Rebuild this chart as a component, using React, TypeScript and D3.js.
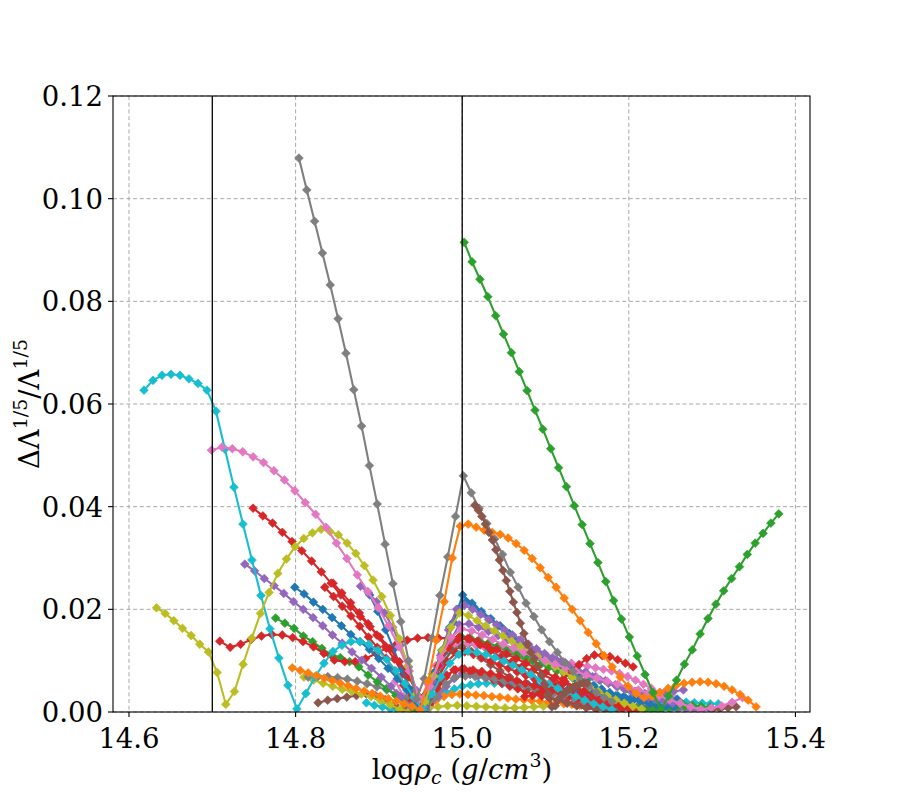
import React, { useEffect, useRef } from 'react';
import * as d3 from 'd3';

const xTicks = [14.6, 14.8, 15.0, 15.2, 15.4];
const yTicks = [0, 0.02, 0.04, 0.06, 0.08, 0.1, 0.12];
const guideLines = [14.7, 15.0];

// each series: start of the density grid, grid step, values
const cyanC3 = [0.0018,0.0013,0.0010,0.0006,0.0003,0.0002,0.0005,0.0010,0.0018,0.0028,0.0038,0.0045,0.0050,0.0053,0.0055,0.0056,0.0056,0.0055,0.0054,0.0052,0.0050,0.0048,0.0046,0.0044,0.0042,0.0040,0.0038,0.0036,0.0034,0.0032,0.0030,0.0028,0.0027,0.0026,0.0025,0.0024,0.0023,0.0022,0.0021,0.0020,0.0019,0.0018,0.0017,0.0016,0.0016];
const orangeO2 = [0.0015,0.0008,0.0003,0.0012,0.0022,0.0030,0.0034,0.0035,0.0034,0.0033,0.0032,0.0030,0.0029,0.0027,0.0025,0.0024,0.0022,0.0021,0.0019,0.0018,0.0016,0.0015,0.0013,0.0012,0.0011,0.0010];
const purpleV4 = [0.0010,0.0030,0.0050,0.0065,0.0075,0.0073,0.0070,0.0067,0.0064,0.0061,0.0058,0.0055,0.0052,0.0049,0.0046,0.0043,0.0040,0.0037,0.0034,0.0031,0.0028,0.0025,0.0022,0.0019,0.0016,0.0014,0.0012,0.0010,0.0008,0.0007,0.0006,0.0005,0.0005,0.0005,0.0005,0.0005];
const redR7 = [0.0015,0.0045,0.0068,0.0082,0.0084,0.0080,0.0074,0.0068,0.0062,0.0056,0.0050,0.0045,0.0040,0.0035,0.0031,0.0027,0.0023,0.0020,0.0017,0.0014,0.0012,0.0010,0.0008,0.0007,0.0006,0.0005,0.0004,0.0004,0.0004];
const blueB3 = [0.0060,0.0058,0.0056,0.0054,0.0052,0.0050,0.0048,0.0046,0.0044,0.0042,0.0040,0.0038,0.0036,0.0034,0.0032,0.0030,0.0028,0.0027,0.0026,0.0025,0.0025,0.0024];
const greenG4 = [0.0020,0.0060,0.0100,0.0125,0.0135,0.0133,0.0130,0.0127,0.0123,0.0119,0.0115,0.0110,0.0105,0.0099,0.0093,0.0087,0.0080,0.0073,0.0066,0.0058,0.0050,0.0042,0.0034,0.0026,0.0019,0.0013,0.0008,0.0005,0.0004,0.0005,0.0007,0.0009,0.0011,0.0012];
const pinkP3 = [0.0060,0.0030,0.0010,0.0020,0.0055,0.0090,0.0115,0.0128,0.0132,0.0133,0.0131,0.0128,0.0125,0.0122,0.0119,0.0116,0.0113,0.0110,0.0107,0.0104,0.0101,0.0098,0.0095,0.0092,0.0089,0.0086,0.0083,0.0080,0.0075,0.0069,0.0062,0.0054,0.0046,0.0038,0.0031,0.0025];
const brownBr2 = [0.0018,0.0023,0.0026,0.0029,0.0032,0.0036,0.0032,0.0024,0.0014,0.0005,0.0003,0.0025,0.0060,0.0095,0.0120,0.0127,0.0118,0.0105,0.0092,0.0080,0.0068,0.0057,0.0047,0.0038,0.0030,0.0023,0.0017,0.0012,0.0008,0.0005,0.0003,0.0003];
const brownBr3 = [0.0004,0.0006,0.0008,0.0010];
const oliveY2 = [0.0068,0.0062,0.0056,0.0050,0.0044,0.0040,0.0035,0.0030,0.0022,0.0014,0.0005,0.0002,0.0004,0.0008,0.0010,0.0012,0.0013,0.0012,0.0011,0.0010,0.0009,0.0008,0.0008,0.0009,0.0010,0.0011];
const grayGr2 = [0.0068,0.0069,0.0069,0.0067,0.0064,0.0060,0.0055,0.0049,0.0043,0.0036,0.0027,0.0016,0.0005,0.0030,0.0055,0.0068,0.0070,0.0069,0.0067,0.0064,0.0060,0.0056,0.0051,0.0046,0.0041,0.0036,0.0031,0.0026,0.0021,0.0017,0.0013,0.0009,0.0006];
const greenG2 = [0.0183,0.0173,0.0163,0.0148,0.0137,0.0124,0.0112,0.0106,0.0098,0.0088,0.0072,0.0059,0.0046,0.0032,0.0018,0.0004,0.0030,0.0075,0.0115,0.0140,0.0148,0.0145,0.0140,0.0134,0.0128,0.0122,0.0116,0.0110,0.0104,0.0098,0.0092,0.0086,0.0080,0.0074,0.0068,0.0062,0.0056,0.0050,0.0045,0.0040,0.0035,0.0030,0.0025,0.0020,0.0016,0.0013,0.0011,0.0010];
const redR3 = [0.0251,0.0232,0.0213,0.0193,0.0172,0.0150,0.0128,0.0103,0.0074,0.0042,0.0010,0.0030,0.0055,0.0072,0.0082,0.0084,0.0082,0.0079,0.0075,0.0071,0.0066,0.0061,0.0056,0.0051,0.0046,0.0041,0.0036,0.0031,0.0026,0.0022,0.0018,0.0014,0.0011,0.0008];
const redR2 = [0.0243,0.0225,0.0206,0.0187,0.0167,0.0146,0.0126,0.0105,0.0080,0.0052,0.0022,0.0005,0.0035,0.0068,0.0098,0.0115,0.0117,0.0112,0.0106,0.0099,0.0092,0.0085,0.0078,0.0071,0.0064,0.0058,0.0051,0.0045,0.0039,0.0033,0.0027,0.0022,0.0017,0.0012,0.0008];
const redR4 = [0.0138,0.0126,0.0132,0.0141,0.0148,0.0151,0.0150,0.0145,0.0137,0.0127,0.0114,0.0101,0.0098,0.0098,0.0104,0.0114,0.0124,0.0133,0.0140,0.0144,0.0145,0.0144,0.0144,0.0146,0.0142,0.0131,0.0119,0.0107,0.0097,0.0088,0.0080,0.0072,0.0064,0.0056,0.0048,0.0040,0.0032,0.0025,0.0018,0.0012];
const blueB0 = [0.0228,0.0196,0.0160,0.0122,0.0083,0.0045,0.0010,0.0030,0.0075,0.0120,0.0165,0.0200,0.0215,0.0205,0.0192,0.0180,0.0168,0.0156,0.0145,0.0134,0.0123,0.0113,0.0103,0.0094,0.0085,0.0076,0.0068,0.0060,0.0052,0.0045,0.0038,0.0032,0.0027,0.0023,0.0019,0.0016,0.0013,0.0011,0.0010];
const blueB1 = [0.0243,0.0230,0.0214,0.0200,0.0184,0.0168,0.0151,0.0137,0.0122,0.0104,0.0085,0.0065,0.0043,0.0020,0.0010,0.0060,0.0115,0.0175,0.0228,0.0212,0.0196,0.0182,0.0168,0.0153,0.0139,0.0125,0.0112,0.0100,0.0088,0.0077,0.0066,0.0056,0.0047,0.0039,0.0032,0.0027,0.0024,0.0022,0.0022,0.0023,0.0024,0.0025];
const purpleV2 = [0.0245,0.0232,0.0215,0.0193,0.0165,0.0130,0.0088,0.0042,0.0010,0.0060,0.0110,0.0160,0.0200,0.0208,0.0200,0.0190,0.0180,0.0170,0.0160,0.0150,0.0141,0.0132,0.0123,0.0114,0.0106,0.0098,0.0090,0.0083,0.0076,0.0069,0.0062,0.0056,0.0050,0.0044,0.0038,0.0033,0.0028,0.0024,0.0020,0.0017];
const purpleV1 = [0.0288,0.0275,0.0260,0.0246,0.0231,0.0215,0.0200,0.0184,0.0168,0.0150,0.0134,0.0117,0.0101,0.0085,0.0068,0.0050,0.0030,0.0012,0.0005,0.0045,0.0090,0.0135,0.0170,0.0172,0.0165,0.0157,0.0149,0.0141,0.0133,0.0125,0.0117,0.0109,0.0101,0.0093,0.0085,0.0077,0.0069,0.0061,0.0053,0.0046,0.0040,0.0036,0.0035,0.0037,0.0040,0.0043];
const redR1 = [0.0397,0.0382,0.0368,0.0350,0.0332,0.0314,0.0294,0.0273,0.0251,0.0228,0.0205,0.0186,0.0166,0.0146,0.0124,0.0098,0.0068,0.0030,0.0040,0.0090,0.0125,0.0141,0.0143,0.0138,0.0130,0.0122,0.0113,0.0104,0.0095,0.0086,0.0077,0.0068,0.0059,0.0050,0.0041,0.0032,0.0024,0.0016,0.0009,0.0004];
const redR6 = [0.0030,0.0032,0.0036,0.0042,0.0052,0.0065,0.0079,0.0092,0.0104,0.0111,0.0110,0.0108,0.0102,0.0095,0.0088];
const cyanA = [0.0627,0.0646,0.0656,0.0658,0.0656,0.0649,0.0640,0.0627,0.0586,0.0512,0.0438,0.0366,0.0296,0.0227,0.0162,0.0105,0.0052,0.0006,0.0036,0.0068,0.0095,0.0118,0.0130,0.0137,0.0137,0.0132,0.0120,0.0102,0.0080,0.0055,0.0028,0.0004,0.0035,0.0068,0.0095,0.0112,0.0118,0.0116,0.0112,0.0106,0.0099,0.0091,0.0082,0.0073,0.0064,0.0055,0.0046,0.0038,0.0030,0.0023,0.0016,0.0010,0.0005];
const oliveY1 = [0.0203,0.0192,0.0178,0.0163,0.0149,0.0132,0.0117,0.0077,0.0015,0.0040,0.0093,0.0144,0.0192,0.0233,0.0270,0.0298,0.0322,0.0338,0.0349,0.0356,0.0352,0.0345,0.0329,0.0309,0.0285,0.0257,0.0225,0.0188,0.0143,0.0090,0.0035,0.0020,0.0070,0.0120,0.0165,0.0193,0.0188,0.0178,0.0168,0.0158,0.0148,0.0138,0.0128,0.0118,0.0108,0.0098,0.0088,0.0078,0.0068,0.0058,0.0049,0.0040,0.0032,0.0024,0.0017,0.0011,0.0006];
const pinkP1 = [0.0510,0.0516,0.0513,0.0507,0.0497,0.0486,0.0470,0.0452,0.0431,0.0408,0.0385,0.0360,0.0329,0.0299,0.0267,0.0235,0.0203,0.0168,0.0127,0.0080,0.0025,0.0050,0.0105,0.0145,0.0162,0.0158,0.0150,0.0141,0.0132,0.0124,0.0116,0.0108,0.0100,0.0093,0.0086,0.0079,0.0072,0.0066,0.0060,0.0054,0.0049,0.0043,0.0037,0.0031,0.0024,0.0017,0.0010,0.0005,0.0008,0.0012,0.0019,0.0028];
const grayG1 = [0.1079,0.1017,0.0956,0.0894,0.0832,0.0766,0.0699,0.0628,0.0557,0.0480,0.0405,0.0327,0.0250,0.0176,0.0100,0.0025,0.0065,0.0144,0.0227,0.0302,0.0381,0.0460,0.0427,0.0397,0.0367,0.0337,0.0307,0.0272,0.0243,0.0212,0.0186,0.0160,0.0137,0.0116,0.0096,0.0079,0.0063,0.0050,0.0038,0.0028,0.0020];
const orangeO1 = [0.0086,0.0081,0.0076,0.0071,0.0066,0.0061,0.0056,0.0051,0.0046,0.0041,0.0036,0.0031,0.0026,0.0021,0.0016,0.0011,0.0004,0.0060,0.0140,0.0215,0.0300,0.0362,0.0366,0.0360,0.0354,0.0350,0.0346,0.0339,0.0328,0.0315,0.0299,0.0281,0.0262,0.0243,0.0222,0.0200,0.0178,0.0155,0.0133,0.0110,0.0088,0.0068,0.0050,0.0036,0.0028,0.0030,0.0038,0.0046,0.0052,0.0056,0.0058,0.0059,0.0058,0.0055,0.0050,0.0043,0.0034,0.0023,0.0010];
const brownBr1 = [0.0403,0.0393,0.0381,0.0366,0.0350,0.0335,0.0316,0.0296,0.0276,0.0256,0.0235,0.0214,0.0194,0.0173,0.0153,0.0132,0.0116,0.0104,0.0089,0.0072,0.0053,0.0035,0.0010,0.0012,0.0025,0.0033,0.0039,0.0044,0.0048,0.0051,0.0054,0.0056,0.0056];
const greenBig = [0.0915,0.0877,0.0843,0.0809,0.0772,0.0736,0.0700,0.0663,0.0626,0.0588,0.0551,0.0513,0.0476,0.0439,0.0402,0.0365,0.0328,0.0291,0.0254,0.0217,0.0181,0.0146,0.0109,0.0073,0.0038,0.0004,0.0031,0.0062,0.0093,0.0121,0.0152,0.0182,0.0210,0.0236,0.0260,0.0283,0.0307,0.0329,0.0348,0.0368,0.0386];

const series = [
  { color: '#17becf', x0: 14.885, dx: 0.0096, values: cyanC3 },
  { color: '#ff7f0e', x0: 14.93, dx: 0.0096, values: orangeO2 },
  { color: '#9467bd', x0: 14.9616, dx: 0.0096, values: purpleV4 },
  { color: '#d62728', x0: 14.9612, dx: 0.0096, values: redR7 },
  { color: '#1f77b4', x0: 15.05, dx: 0.0096, values: blueB3 },
  { color: '#2ca02c', x0: 14.96, dx: 0.0096, values: greenG4 },
  { color: '#e377c2', x0: 14.92, dx: 0.0096, values: pinkP3 },
  { color: '#8c564b', x0: 14.827, dx: 0.0115, values: brownBr2 },
  { color: '#8c564b', x0: 15.3, dx: 0.0096, values: brownBr3 },
  { color: '#bcbd22', x0: 14.81, dx: 0.0115, values: oliveY2 },
  { color: '#7f7f7f', x0: 14.815, dx: 0.0118, values: grayGr2 },
  { color: '#2ca02c', x0: 14.776, dx: 0.0111, values: greenG2 },
  { color: '#d62728', x0: 14.845, dx: 0.0105, values: redR3 },
  { color: '#d62728', x0: 14.835, dx: 0.0105, values: redR2 },
  { color: '#d62728', x0: 14.709, dx: 0.0125, values: redR4 },
  { color: '#1f77b4', x0: 14.889, dx: 0.0096, values: blueB0 },
  { color: '#1f77b4', x0: 14.799, dx: 0.0112, values: blueB1 },
  { color: '#9467bd', x0: 14.878, dx: 0.0096, values: purpleV2 },
  { color: '#9467bd', x0: 14.739, dx: 0.0117, values: purpleV1 },
  { color: '#d62728', x0: 14.749, dx: 0.0117, values: redR1 },
  { color: '#d62728', x0: 15.075, dx: 0.0093, values: redR6 },
  { color: '#17becf', x0: 14.618, dx: 0.0108, values: cyanA },
  { color: '#bcbd22', x0: 14.633, dx: 0.0104, values: oliveY1 },
  { color: '#e377c2', x0: 14.699, dx: 0.0125, values: pinkP1 },
  { color: '#7f7f7f', x0: 14.804, dx: 0.0094, values: grayG1 },
  { color: '#ff7f0e', x0: 14.796, dx: 0.0096, values: orangeO1 },
  { color: '#8c564b', x0: 15.0152, dx: 0.0042, values: brownBr1 },
  { color: '#2ca02c', x0: 15.0024, dx: 0.00944, values: greenBig },
];

const FONT = '"DejaVu Serif", serif';

const App: React.FC = () => {
  const gRef = useRef<SVGGElement | null>(null);

  useEffect(() => {
    const root = d3.select(gRef.current);
    root.selectAll('*').remove();

    const left = 113, right = 810, top = 96, bottom = 712;
    const x = d3.scaleLinear().domain([14.5808, 15.4175]).range([left, right]);
    const y = d3.scaleLinear().domain([0, 0.12]).range([bottom, top]);

    root.append('defs').append('clipPath').attr('id', 'plotclip')
      .append('rect').attr('x', left).attr('y', top)
      .attr('width', right - left).attr('height', bottom - top);

    // grid
    const grid = root.append('g').attr('stroke', '#a8a8a8').attr('stroke-width', 1)
      .attr('stroke-dasharray', '4,2.7');
    xTicks.forEach((t) => {
      grid.append('line').attr('x1', x(t)).attr('x2', x(t)).attr('y1', top).attr('y2', bottom);
    });
    yTicks.forEach((t) => {
      grid.append('line').attr('x1', left).attr('x2', right).attr('y1', y(t)).attr('y2', y(t));
    });

    const plot = root.append('g').attr('clip-path', 'url(#plotclip)');
    const r = 4.4;
    const diamond = `M0,${-r}L${r},0L0,${r}L${-r},0Z`;

    series.forEach((s) => {
      const pts = s.values.map((v, i) => [s.x0 + i * s.dx, v] as [number, number]);
      const line = d3.line<[number, number]>().x((d) => x(d[0])).y((d) => y(d[1]));
      plot.append('path').attr('d', line(pts)).attr('fill', 'none')
        .attr('stroke', s.color).attr('stroke-width', 2.1);
      plot.selectAll(null).data(pts).enter().append('path')
        .attr('d', diamond)
        .attr('transform', (d) => `translate(${x(d[0])},${y(d[1])})`)
        .attr('fill', s.color).attr('stroke', s.color).attr('stroke-width', 0.6);
    });

    guideLines.forEach((g) => {
      plot.append('line').attr('x1', x(g)).attr('x2', x(g)).attr('y1', top).attr('y2', bottom)
        .attr('stroke', '#000').attr('stroke-width', 1.3);
    });

    // frame
    root.append('rect').attr('x', left).attr('y', top).attr('width', right - left)
      .attr('height', bottom - top).attr('fill', 'none').attr('stroke', '#000').attr('stroke-width', 1.1);

    // ticks and labels
    const axes = root.append('g').attr('font-family', FONT).attr('font-size', 27.5).attr('fill', '#000');
    xTicks.forEach((t) => {
      axes.append('line').attr('x1', x(t)).attr('x2', x(t)).attr('y1', bottom).attr('y2', bottom + 5)
        .attr('stroke', '#000').attr('stroke-width', 1.1);
      axes.append('text').attr('x', x(t)).attr('y', bottom + 36).attr('text-anchor', 'middle')
        .text(d3.format('.1f')(t));
    });
    yTicks.forEach((t) => {
      axes.append('line').attr('x1', left - 5).attr('x2', left).attr('y1', y(t)).attr('y2', y(t))
        .attr('stroke', '#000').attr('stroke-width', 1.1);
      axes.append('text').attr('x', left - 10).attr('y', y(t) + 10).attr('text-anchor', 'end')
        .text(d3.format('.2f')(t));
    });
  }, []);

  return (
    <svg width={900} height={800} style={{ position: 'absolute', left: 0, top: 0, background: '#fff' }}>
      <rect width={900} height={800} fill="#fff" />
      <g ref={gRef} />
      <text x={462} y={779} textAnchor="middle" fontFamily={FONT} fontSize={27.5} fill="#000">
        <tspan>log</tspan>
        <tspan fontStyle="italic">ρ</tspan>
        <tspan fontStyle="italic" fontSize={19} dy={5}>c</tspan>
        <tspan dy={-5}> (</tspan>
        <tspan fontStyle="italic">g</tspan>
        <tspan>/</tspan>
        <tspan fontStyle="italic">cm</tspan>
        <tspan fontSize={19} dy={-12}>3</tspan>
        <tspan dy={12}>)</tspan>
      </text>
      <text transform="translate(39,404) rotate(-90)" textAnchor="middle" fontFamily={FONT} fontSize={27.5} fill="#000">
        <tspan>ΔΛ</tspan>
        <tspan fontSize={19} dy={-12}>1/5</tspan>
        <tspan dy={12}>/Λ</tspan>
        <tspan fontSize={19} dy={-12}>1/5</tspan>
      </text>
    </svg>
  );
};

export default App;
